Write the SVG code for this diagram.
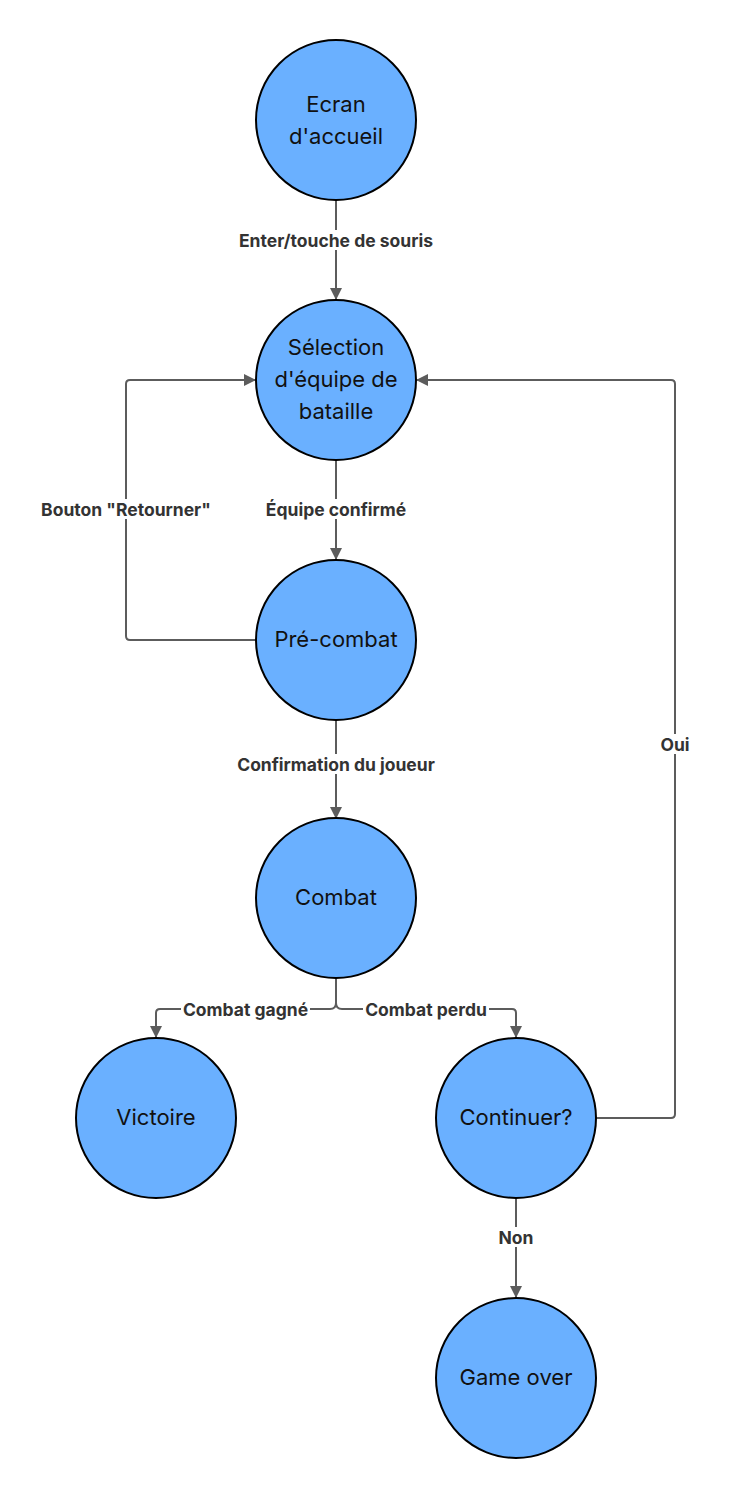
<svg xmlns="http://www.w3.org/2000/svg" width="731" height="1499" viewBox="0 0 731 1499">
<defs>
<marker id="ah" markerWidth="12" markerHeight="12" viewBox="0 0 12 12" refX="11" refY="6" orient="auto" markerUnits="userSpaceOnUse">
<path d="M0,0 L12,6 L0,12 Z" fill="#5c5c5c"/>
</marker>
</defs>
<style>
.node{fill:#6AB0FF;stroke:#000;stroke-width:2}
.nt{font-family:Inter,"Liberation Sans",sans-serif;font-size:22px;fill:#111;text-anchor:middle;dominant-baseline:central}
.edge{fill:none;stroke:#5c5c5c;stroke-width:2}
.lb{font-family:Inter,"Liberation Sans",sans-serif;font-size:17.5px;font-weight:700;fill:#333;text-anchor:middle;dominant-baseline:central}
.bg{fill:#fff}
</style>
<rect width="731" height="1499" fill="#fff"/>
<g id="connectors">
<path class="edge" d="M336,200 V299" marker-end="url(#ah)"/>
<path class="edge" d="M336,460 V559" marker-end="url(#ah)"/>
<path class="edge" d="M256,640 H130 Q126,640 126,636 V384 Q126,380 130,380 H255" marker-end="url(#ah)"/>
<path class="edge" d="M336,720 V818" marker-end="url(#ah)"/>
<path class="edge" d="M336,978 V1003 Q336,1009 330,1009 H160 Q156,1009 156,1013 V1037" marker-end="url(#ah)"/>
<path class="edge" d="M336,1003 Q336,1009 342,1009 H512 Q516,1009 516,1013 V1037" marker-end="url(#ah)"/>
<path class="edge" d="M596,1118 H671 Q675,1118 675,1114 V384 Q675,380 671,380 H417" marker-end="url(#ah)"/>
<path class="edge" d="M516,1198 V1297" marker-end="url(#ah)"/>
<rect class="bg" x="236" y="230" width="200" height="20"/>
<text class="lb" x="336" y="240">Enter/touche de souris</text>
<rect class="bg" x="263" y="499" width="146" height="20"/>
<text class="lb" x="336" y="509">Équipe confirmé</text>
<rect class="bg" x="38" y="499" width="176" height="20"/>
<text class="lb" x="126" y="509">Bouton "Retourner"</text>
<rect class="bg" x="234" y="754" width="204" height="20"/>
<text class="lb" x="336" y="764">Confirmation du joueur</text>
<rect class="bg" x="658" y="734" width="34" height="20"/>
<text class="lb" x="675" y="744">Oui</text>
<rect class="bg" x="181" y="999" width="129" height="20"/>
<text class="lb" x="245.5" y="1009">Combat gagné</text>
<rect class="bg" x="363" y="999" width="126" height="20"/>
<text class="lb" x="426" y="1009">Combat perdu</text>
<rect class="bg" x="497" y="1227" width="38" height="20"/>
<text class="lb" x="516" y="1237">Non</text>
</g>
<g id="ecran"><circle class="node" cx="336" cy="120" r="80"/><text class="nt" x="336" y="104">Ecran</text><text class="nt" x="336" y="136">d'accueil</text></g>
<g id="selection"><circle class="node" cx="336" cy="380" r="80"/><text class="nt" x="336" y="347">Sélection</text><text class="nt" x="336" y="379">d'équipe de</text><text class="nt" x="336" y="411">bataille</text></g>
<g id="precombat"><circle class="node" cx="336" cy="640" r="80"/><text class="nt" x="336" y="639">Pré-combat</text></g>
<g id="combat"><circle class="node" cx="336" cy="898" r="80"/><text class="nt" x="336" y="897">Combat</text></g>
<g id="victoire"><circle class="node" cx="156" cy="1118" r="80"/><text class="nt" x="156" y="1117">Victoire</text></g>
<g id="continuer"><circle class="node" cx="516" cy="1118" r="80"/><text class="nt" x="516" y="1117">Continuer?</text></g>
<g id="gameover"><circle class="node" cx="516" cy="1378" r="80"/><text class="nt" x="516" y="1377">Game over</text></g>
</svg>
